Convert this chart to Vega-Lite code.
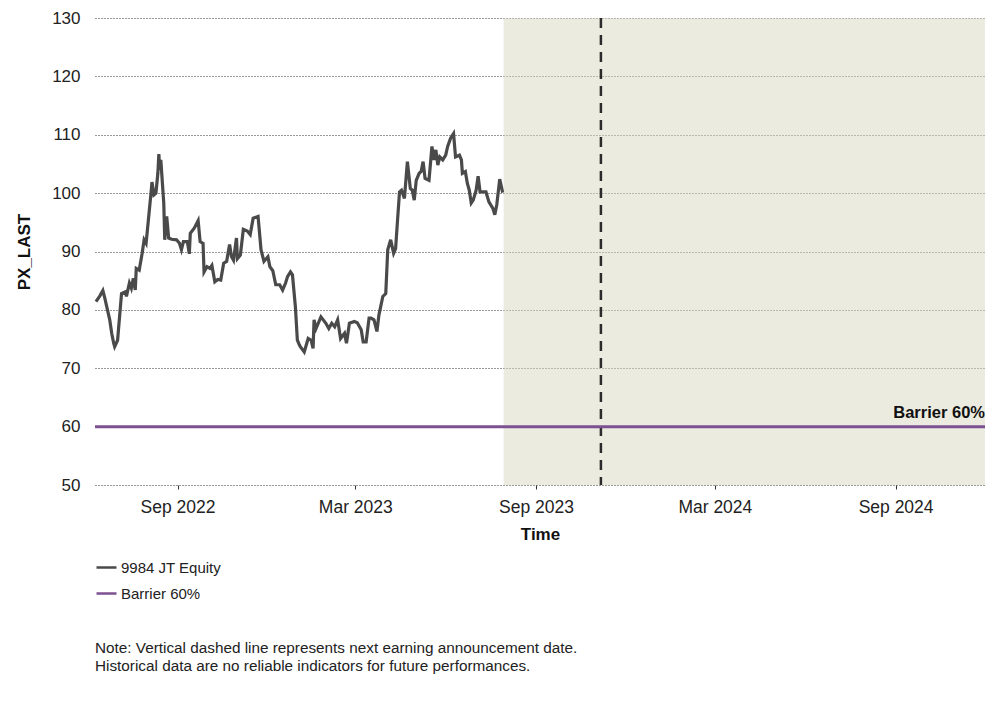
{
  "$schema": "https://vega.github.io/schema/vega-lite/v6.json",
  "width": 890,
  "height": 467,
  "autosize": "none",
  "padding": {"left": 95, "top": 18, "right": 15, "bottom": 226},
  "background": "white",
  "config": {
    "font": "Liberation Sans",
    "view": {"stroke": null},
    "axis": {"labelColor": "#222", "titleColor": "#111", "labelFontSize": 17, "titleFontSize": 17, "titleFontWeight": "bold"}
  },
  "title": {
    "text": ["Note: Vertical dashed line represents next earning announcement date.", "Historical data are no reliable indicators for future performances."],
    "orient": "bottom",
    "anchor": "start",
    "frame": "group",
    "offset": 39,
    "fontSize": 15.3,
    "fontWeight": "normal",
    "lineHeight": 18,
    "color": "#222"
  },
  "datasets": {
    "price": [
      {"date": "2022-06-10", "px": 81.4},
      {"date": "2022-06-14", "px": 82.4},
      {"date": "2022-06-17", "px": 83.3},
      {"date": "2022-06-19", "px": 82.0},
      {"date": "2022-06-21", "px": 80.5},
      {"date": "2022-06-24", "px": 78.3},
      {"date": "2022-06-26", "px": 76.0},
      {"date": "2022-06-28", "px": 74.3},
      {"date": "2022-06-29", "px": 73.7},
      {"date": "2022-07-02", "px": 74.8},
      {"date": "2022-07-04", "px": 78.8},
      {"date": "2022-07-06", "px": 82.8},
      {"date": "2022-07-10", "px": 83.1},
      {"date": "2022-07-11", "px": 82.3},
      {"date": "2022-07-14", "px": 84.6},
      {"date": "2022-07-16", "px": 83.7},
      {"date": "2022-07-18", "px": 85.4},
      {"date": "2022-07-20", "px": 83.4},
      {"date": "2022-07-21", "px": 87.1},
      {"date": "2022-07-24", "px": 86.8},
      {"date": "2022-07-27", "px": 89.7},
      {"date": "2022-07-29", "px": 92.0},
      {"date": "2022-07-31", "px": 91.4},
      {"date": "2022-08-02", "px": 94.8},
      {"date": "2022-08-05", "px": 100.0},
      {"date": "2022-08-06", "px": 101.9},
      {"date": "2022-08-08", "px": 99.7},
      {"date": "2022-08-10", "px": 100.0},
      {"date": "2022-08-12", "px": 103.4},
      {"date": "2022-08-13", "px": 106.7},
      {"date": "2022-08-14", "px": 104.0},
      {"date": "2022-08-15", "px": 105.7},
      {"date": "2022-08-18", "px": 98.3},
      {"date": "2022-08-19", "px": 92.0},
      {"date": "2022-08-21", "px": 96.0},
      {"date": "2022-08-23", "px": 92.3},
      {"date": "2022-08-26", "px": 92.1},
      {"date": "2022-08-31", "px": 92.0},
      {"date": "2022-09-03", "px": 91.4},
      {"date": "2022-09-05", "px": 90.3},
      {"date": "2022-09-07", "px": 91.7},
      {"date": "2022-09-11", "px": 91.7},
      {"date": "2022-09-13", "px": 89.6},
      {"date": "2022-09-14", "px": 93.1},
      {"date": "2022-09-18", "px": 94.0},
      {"date": "2022-09-22", "px": 95.3},
      {"date": "2022-09-24", "px": 91.7},
      {"date": "2022-09-27", "px": 91.4},
      {"date": "2022-09-28", "px": 86.5},
      {"date": "2022-10-01", "px": 87.4},
      {"date": "2022-10-04", "px": 87.1},
      {"date": "2022-10-06", "px": 87.6},
      {"date": "2022-10-09", "px": 84.8},
      {"date": "2022-10-12", "px": 85.2},
      {"date": "2022-10-15", "px": 85.1},
      {"date": "2022-10-18", "px": 88.0},
      {"date": "2022-10-21", "px": 88.3},
      {"date": "2022-10-24", "px": 91.2},
      {"date": "2022-10-26", "px": 89.1},
      {"date": "2022-10-28", "px": 88.5},
      {"date": "2022-10-31", "px": 92.3},
      {"date": "2022-11-01", "px": 88.8},
      {"date": "2022-11-04", "px": 89.4},
      {"date": "2022-11-07", "px": 93.8},
      {"date": "2022-11-11", "px": 93.5},
      {"date": "2022-11-14", "px": 92.9},
      {"date": "2022-11-17", "px": 95.7},
      {"date": "2022-11-22", "px": 96.0},
      {"date": "2022-11-25", "px": 90.3},
      {"date": "2022-11-28", "px": 88.3},
      {"date": "2022-12-02", "px": 89.1},
      {"date": "2022-12-04", "px": 87.4},
      {"date": "2022-12-07", "px": 86.7},
      {"date": "2022-12-10", "px": 84.3},
      {"date": "2022-12-14", "px": 84.3},
      {"date": "2022-12-17", "px": 83.4},
      {"date": "2022-12-20", "px": 84.6},
      {"date": "2022-12-22", "px": 85.7},
      {"date": "2022-12-25", "px": 86.5},
      {"date": "2022-12-27", "px": 86.0},
      {"date": "2022-12-30", "px": 80.5},
      {"date": "2023-01-01", "px": 74.8},
      {"date": "2023-01-03", "px": 74.0},
      {"date": "2023-01-04", "px": 73.7},
      {"date": "2023-01-08", "px": 72.8},
      {"date": "2023-01-12", "px": 75.1},
      {"date": "2023-01-15", "px": 74.8},
      {"date": "2023-01-17", "px": 73.4},
      {"date": "2023-01-18", "px": 78.3},
      {"date": "2023-01-20", "px": 76.8},
      {"date": "2023-01-25", "px": 78.8},
      {"date": "2023-01-30", "px": 77.7},
      {"date": "2023-02-02", "px": 76.8},
      {"date": "2023-02-05", "px": 77.7},
      {"date": "2023-02-08", "px": 77.1},
      {"date": "2023-02-11", "px": 78.3},
      {"date": "2023-02-14", "px": 75.1},
      {"date": "2023-02-18", "px": 76.0},
      {"date": "2023-02-20", "px": 74.3},
      {"date": "2023-02-23", "px": 77.7},
      {"date": "2023-02-28", "px": 78.0},
      {"date": "2023-03-03", "px": 77.8},
      {"date": "2023-03-07", "px": 76.6},
      {"date": "2023-03-09", "px": 74.5},
      {"date": "2023-03-12", "px": 74.5},
      {"date": "2023-03-15", "px": 78.6},
      {"date": "2023-03-17", "px": 78.6},
      {"date": "2023-03-20", "px": 78.3},
      {"date": "2023-03-23", "px": 76.3},
      {"date": "2023-03-25", "px": 79.1},
      {"date": "2023-03-29", "px": 82.3},
      {"date": "2023-04-01", "px": 82.8},
      {"date": "2023-04-03", "px": 90.3},
      {"date": "2023-04-06", "px": 92.0},
      {"date": "2023-04-09", "px": 89.7},
      {"date": "2023-04-11", "px": 90.5},
      {"date": "2023-04-13", "px": 95.4},
      {"date": "2023-04-15", "px": 100.2},
      {"date": "2023-04-17", "px": 100.5},
      {"date": "2023-04-20", "px": 99.1},
      {"date": "2023-04-23", "px": 105.4},
      {"date": "2023-04-26", "px": 100.8},
      {"date": "2023-04-28", "px": 100.5},
      {"date": "2023-04-30", "px": 98.8},
      {"date": "2023-05-02", "px": 102.2},
      {"date": "2023-05-05", "px": 103.4},
      {"date": "2023-05-07", "px": 103.7},
      {"date": "2023-05-09", "px": 105.4},
      {"date": "2023-05-11", "px": 102.5},
      {"date": "2023-05-15", "px": 102.2},
      {"date": "2023-05-18", "px": 108.0},
      {"date": "2023-05-20", "px": 105.7},
      {"date": "2023-05-22", "px": 107.4},
      {"date": "2023-05-24", "px": 104.8},
      {"date": "2023-05-26", "px": 106.2},
      {"date": "2023-05-29", "px": 105.7},
      {"date": "2023-06-01", "px": 106.5},
      {"date": "2023-06-03", "px": 108.0},
      {"date": "2023-06-06", "px": 109.4},
      {"date": "2023-06-09", "px": 110.2},
      {"date": "2023-06-11", "px": 106.2},
      {"date": "2023-06-15", "px": 106.5},
      {"date": "2023-06-17", "px": 105.7},
      {"date": "2023-06-18", "px": 103.4},
      {"date": "2023-06-21", "px": 103.7},
      {"date": "2023-06-23", "px": 101.7},
      {"date": "2023-06-25", "px": 100.5},
      {"date": "2023-06-27", "px": 98.3},
      {"date": "2023-06-29", "px": 98.8},
      {"date": "2023-07-02", "px": 100.5},
      {"date": "2023-07-04", "px": 102.9},
      {"date": "2023-07-06", "px": 100.2},
      {"date": "2023-07-09", "px": 100.2},
      {"date": "2023-07-12", "px": 100.2},
      {"date": "2023-07-15", "px": 98.5},
      {"date": "2023-07-19", "px": 97.4},
      {"date": "2023-07-21", "px": 96.3},
      {"date": "2023-07-23", "px": 98.0},
      {"date": "2023-07-26", "px": 102.4},
      {"date": "2023-07-29", "px": 100.1}
    ],
    "shade": [{"start": "2023-07-30", "end": "2024-12-01"}],
    "earnings": [{"date": "2023-11-06"}],
    "barrier": [{"date": "2024-12-01", "level": 60, "label": "Barrier 60%"}]
  },
  "encoding": {
    "x": {
      "type": "temporal",
      "scale": {"domain": [{"year": 2022, "month": 6, "date": 9}, {"year": 2024, "month": 12, "date": 1}]},
      "axis": {
        "title": "Time",
        "format": "%b %Y",
        "values": [
          {"year": 2022, "month": 9, "date": 1},
          {"year": 2023, "month": 3, "date": 1},
          {"year": 2023, "month": 9, "date": 1},
          {"year": 2024, "month": 3, "date": 1},
          {"year": 2024, "month": 9, "date": 1}
        ],
        "grid": false,
        "domain": false,
        "ticks": true,
        "tickSize": 4,
        "tickColor": "#333",
        "labelFontSize": 17.5,
        "labelPadding": 9,
        "titlePadding": 11
      }
    }
  },
  "layer": [
    {
      "data": {"name": "shade"},
      "mark": {"type": "rect", "color": "#d8d8c0", "opacity": 0.5},
      "encoding": {
        "x": {"field": "start", "type": "temporal"},
        "x2": {"field": "end"}
      }
    },
    {
      "data": {"name": "earnings"},
      "mark": {"type": "rule", "color": "#2b2b2b", "strokeWidth": 2.5, "strokeDash": [10, 7]},
      "encoding": {
        "x": {"field": "date", "type": "temporal"}
      }
    },
    {
      "data": {"name": "barrier"},
      "mark": {"type": "rule", "strokeWidth": 3},
      "encoding": {
        "x": null,
        "y": {"field": "level", "type": "quantitative"},
        "color": {"datum": "Barrier 60%"}
      }
    },
    {
      "data": {"name": "price"},
      "mark": {"type": "line", "strokeWidth": 3.2, "interpolate": "linear"},
      "encoding": {
        "x": {"field": "date", "type": "temporal"},
        "y": {
          "field": "px",
          "type": "quantitative",
          "scale": {"domain": [50, 130], "nice": false, "zero": false},
          "axis": {
            "title": "PX_LAST",
            "values": [50, 60, 70, 80, 90, 100, 110, 120, 130],
            "grid": true,
            "gridColor": "#333",
            "gridDash": [1, 2],
            "gridWidth": 1,
            "domain": false,
            "ticks": false,
            "labelPadding": 15,
            "titlePadding": 18
          }
        },
        "color": {
          "datum": "9984 JT Equity",
          "scale": {"domain": ["9984 JT Equity", "Barrier 60%"], "range": ["#4a4a4a", "#7d5191"]},
          "legend": {
            "title": null,
            "orient": "none",
            "legendX": 0,
            "legendY": 538,
            "symbolType": "stroke",
            "symbolSize": 400,
            "symbolStrokeWidth": 2.5,
            "labelFontSize": 15,
            "labelColor": "#222",
            "rowPadding": 6,
            "labelOffset": 3
          }
        }
      }
    },
    {
      "data": {"name": "barrier"},
      "mark": {"type": "text", "align": "right", "baseline": "bottom", "dy": -6, "fontWeight": "bold", "fontSize": 16.5, "color": "#111"},
      "encoding": {
        "x": {"field": "date", "type": "temporal"},
        "y": {"field": "level", "type": "quantitative"},
        "text": {"field": "label"}
      }
    }
  ]
}
